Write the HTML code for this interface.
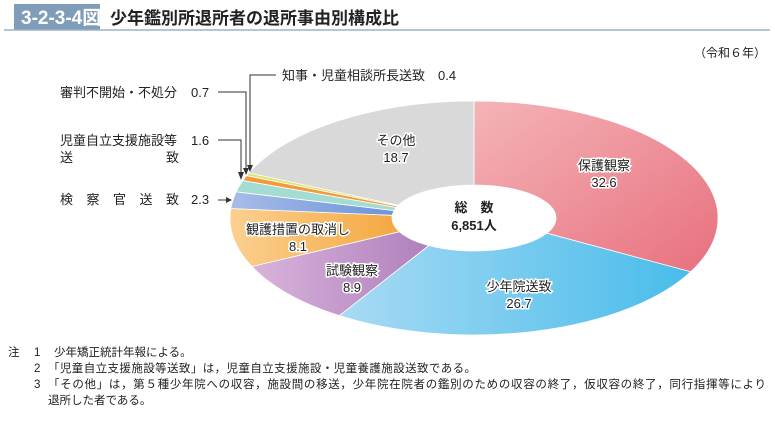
<!DOCTYPE html>
<html><head><meta charset="utf-8"><style>
body{margin:0;width:775px;height:417px;background:#fff;overflow:hidden;font-family:"Liberation Sans","Noto Sans CJK JP",sans-serif;}
</style></head><body>
<svg width="775" height="417" viewBox="0 0 775 417" xmlns="http://www.w3.org/2000/svg" font-family="Liberation Sans, Noto Sans CJK JP, sans-serif">
<defs>
<linearGradient id="gp" x1="0" y1="0" x2="1" y2="1"><stop offset="0" stop-color="#f4b4b8"/><stop offset="1" stop-color="#e8707e"/></linearGradient>
<linearGradient id="gb" x1="0" y1="0" x2="1" y2="0"><stop offset="0" stop-color="#a8daf4"/><stop offset="1" stop-color="#48bcea"/></linearGradient>
<linearGradient id="gv" x1="0" y1="0" x2="1" y2="0"><stop offset="0" stop-color="#d8b4dc"/><stop offset="1" stop-color="#b080bc"/></linearGradient>
<linearGradient id="go" x1="0" y1="0" x2="1" y2="0"><stop offset="0" stop-color="#fbd090"/><stop offset="1" stop-color="#f4a840"/></linearGradient>
<linearGradient id="gk" x1="0" y1="0" x2="1" y2="0"><stop offset="0" stop-color="#a8bce8"/><stop offset="1" stop-color="#6c94d8"/></linearGradient>
</defs>
<rect x="14" y="4" width="86" height="26" fill="#7f9cb8"/>
<text x="21" y="24" font-size="19" font-weight="bold" fill="#fff">3-2-3-4図</text>
<text x="110" y="24" font-size="17" font-weight="bold" fill="#222">少年鑑別所退所者の退所事由別構成比</text>
<line x1="4" y1="30" x2="770" y2="30" stroke="#9ab2c8" stroke-width="1.5"/>
<text x="766" y="57" font-size="12" text-anchor="end" fill="#222">（令和６年）</text>

<g stroke="#fff" stroke-width="0.8">
<path d="M474,101 A244,117 0 0 1 690.7,271.8 L546.8,233.2 A82,33 0 0 0 474,185 Z" fill="url(#gp)"/>
<path d="M690.7,271.8 A244,117 0 0 1 339.4,315.6 L428.8,245.5 A82,33 0 0 0 546.8,233.2 Z" fill="url(#gb)"/>
<path d="M339.4,315.6 A244,117 0 0 1 251.9,266.5 L399.4,231.7 A82,33 0 0 0 428.8,245.5 Z" fill="url(#gv)"/>
<path d="M251.9,266.5 A244,117 0 0 1 230.8,208.5 L392.3,215.3 A82,33 0 0 0 399.4,231.7 Z" fill="url(#go)"/>
<path d="M230.8,208.5 A244,117 0 0 1 236.2,191.8 L394.1,210.6 A82,33 0 0 0 392.3,215.3 Z" fill="url(#gk)"/>
<path d="M236.2,191.8 A244,117 0 0 1 242.9,180.5 L396.3,207.4 A82,33 0 0 0 394.1,210.6 Z" fill="#a4dcd2"/>
<path d="M242.9,180.5 A244,117 0 0 1 246.6,175.6 L397.6,206.0 A82,33 0 0 0 396.3,207.4 Z" fill="#f29a3c"/>
<path d="M246.6,175.6 A244,117 0 0 1 248.9,172.9 L398.3,205.3 A82,33 0 0 0 397.6,206.0 Z" fill="#dde46c"/>
<path d="M248.9,172.9 A244,117 0 0 1 474,101 L474,185 A82,33 0 0 0 398.3,205.3 Z" fill="#d9d9d9"/>
</g>

<g font-size="13" fill="#222" text-anchor="middle" stroke="#fff" stroke-width="3" paint-order="stroke">
<text x="604" y="170">保護観察</text><text x="604" y="187">32.6</text>
<text x="519" y="291">少年院送致</text><text x="519" y="308">26.7</text>
<text x="352" y="275">試験観察</text><text x="352" y="292">8.9</text>
<text x="298" y="234">観護措置の取消し</text><text x="298" y="251">8.1</text>
<text x="396" y="145">その他</text><text x="396" y="162">18.7</text>
</g>
<g font-size="13" fill="#222" text-anchor="middle" font-weight="bold">
<text x="474" y="212">総　数</text><text x="474" y="230">6,851人</text>
</g>

<g font-size="13" fill="#222">
<text x="282" y="80">知事・児童相談所長送致　0.4</text>
<text x="60" y="97">審判不開始・不処分</text><text x="191" y="97">0.7</text>
<text x="60" y="145">児童自立支援施設等</text><text x="191" y="145">1.6</text>
<text x="60" y="162">送</text><text x="166" y="162">致</text>
<text x="60" y="204" textLength="119">検察官送致</text><text x="191" y="204">2.3</text>
</g>
<g stroke="#333" stroke-width="1" fill="none">
<polyline points="276,75 250,75 250,169"/>
<polyline points="218,92 246,92 246,172"/>
<polyline points="218,140 241,140 241,177"/>
<line x1="218" y1="200" x2="230" y2="200"/>
</g>
<g fill="#333">
<path d="M247,165 L253,165 L250,172 Z"/>
<path d="M243,168 L249,168 L246,175 Z"/>
<path d="M238,172 L244,172 L241,180 Z"/>
<path d="M226,197 L232,200 L226,203 Z"/>
</g>

<g font-size="11.5" fill="#222">
<text x="8" y="356">注</text><text x="34" y="356">1</text><text x="54" y="356">少年矯正統計年報による。</text>
<text x="34" y="372">2</text><text x="48" y="372" textLength="428">「児童自立支援施設等送致」は，児童自立支援施設・児童養護施設送致である。</text>
<text x="34" y="388">3</text><text x="48" y="388" textLength="718">「その他」は，第５種少年院への収容，施設間の移送，少年院在院者の鑑別のための収容の終了，仮収容の終了，同行指揮等により</text>
<text x="48" y="404">退所した者である。</text>
</g>
</svg>
</body></html>
